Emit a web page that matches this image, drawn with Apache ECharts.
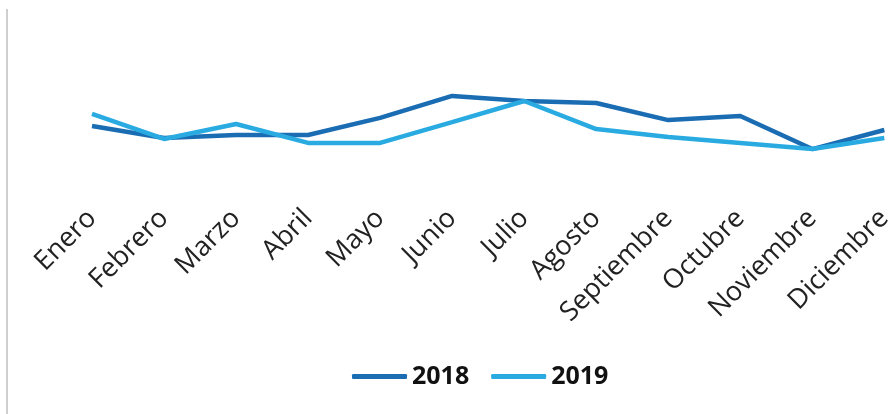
<!DOCTYPE html>
<html><head><meta charset="utf-8">
<script src="https://cdn.jsdelivr.net/npm/echarts@6/dist/echarts.min.js"></script>
<style>
html,body{margin:0;padding:0;background:#fff;}
#wrap{position:relative;width:896px;height:414px;}
#sep{position:absolute;left:6px;top:9px;width:2px;bottom:0;background:#cfcfcf;}
#chart{position:absolute;left:0;top:0;width:896px;height:414px;}
</style></head>
<body>
<div id="wrap"><div id="sep"></div><div id="chart"></div></div>
<script>
const months = ['Enero','Febrero','Marzo','Abril','Mayo','Junio','Julio','Agosto','Septiembre','Octubre','Noviembre','Diciembre'];
const values2018 = [41.1, 34.4, 36.1, 36.1, 45.6, 57.8, 55.0, 53.9, 44.4, 46.7, 28.3, 38.9];
const values2019 = [47.8, 33.9, 42.2, 31.7, 31.7, 43.3, 55.0, 39.4, 35.0, 31.7, 28.3, 34.4];
const seriesNames = ['2018','2019'];

const chart = echarts.init(document.getElementById('chart'), null, {renderer:'canvas'});
chart.setOption({
  animation:false,
  grid:{left:92, right:8, top:20, bottom:214, containLabel:false},
  legend:{
    left:347, top:359,
    icon:'roundRect', itemWidth:55, itemHeight:5, itemGap:22,
    textStyle:{fontFamily:'Open Sans', fontWeight:'bold', fontSize:25, color:'#111'},
    data:seriesNames
  },
  xAxis:{
    type:'category', data:months, boundaryGap:false,
    axisLine:{show:false}, axisTick:{show:false},
    axisLabel:{interval:0, rotate:45, margin:14, fontFamily:'Open Sans', fontSize:27, color:'#222'}
  },
  yAxis:{type:'value', min:0, max:100, show:false, splitLine:{show:false}},
  series:[
    {name:seriesNames[0], type:'line', data:values2018, symbol:'none', color:'#1a6db3', lineStyle:{width:4.5, color:'#1a6db3'}},
    {name:seriesNames[1], type:'line', data:values2019, symbol:'none', color:'#29abe2', lineStyle:{width:4.5, color:'#29abe2'}}
  ]
});
</script>
</body></html>
